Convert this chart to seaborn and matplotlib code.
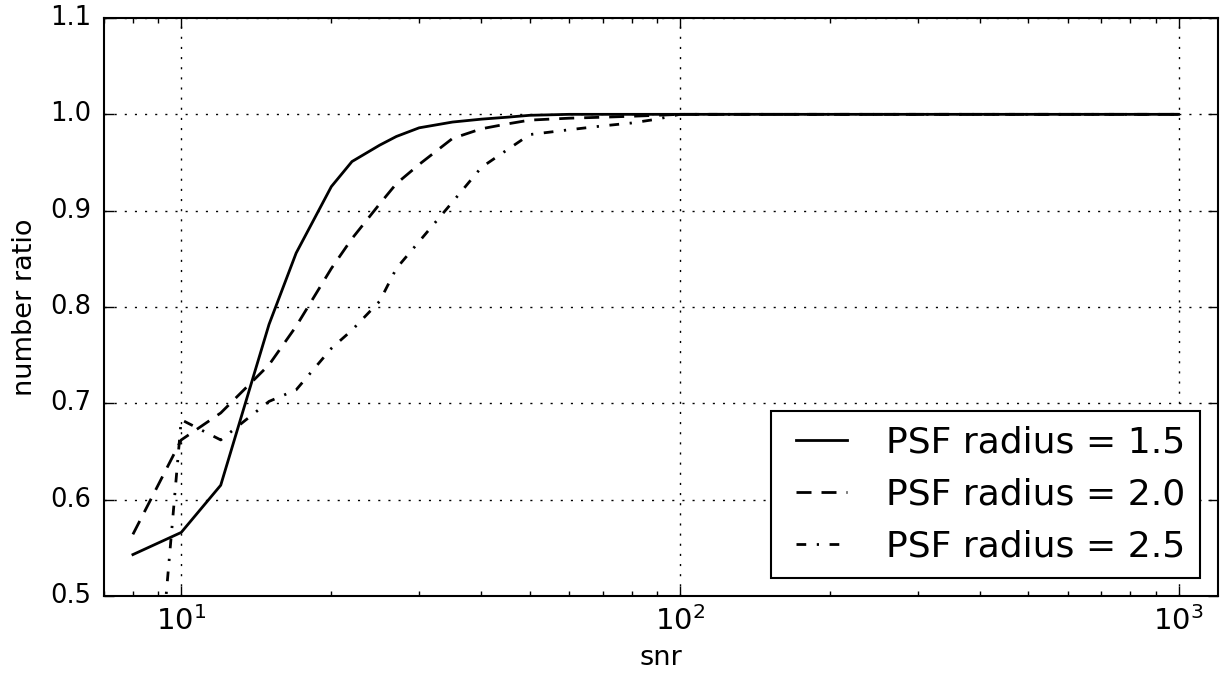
import matplotlib
matplotlib.use("Agg")
import matplotlib.pyplot as plt
import seaborn as sns
import pandas as pd
from matplotlib.ticker import FixedLocator, FormatStrFormatter

# Detection completeness vs. signal-to-noise for three PSF radii
snr = [8, 10, 12, 15, 17, 20, 22, 25, 27, 30, 35, 40, 45, 50,
       60, 70, 80, 90, 100, 200, 300, 400, 500, 600, 700, 800, 900, 1000]

ratio_r15 = [0.543, 0.566, 0.615, 0.782, 0.856, 0.925, 0.951, 0.968, 0.977, 0.986,
             0.992, 0.995, 0.997, 0.999, 1.0, 1.0, 1.0, 1.0, 1.0,
             1.0, 1.0, 1.0, 1.0, 1.0, 1.0, 1.0, 1.0, 1.0]
ratio_r20 = [0.564, 0.662, 0.690, 0.740, 0.780, 0.840, 0.871, 0.907, 0.928, 0.948,
             0.975, 0.985, 0.990, 0.994, 0.996, 0.997, 0.998, 0.999, 1.0,
             1.0, 1.0, 1.0, 1.0, 1.0, 1.0, 1.0, 1.0, 1.0]
ratio_r25 = [0.10, 0.683, 0.662, 0.702, 0.714, 0.757, 0.776, 0.806, 0.840, 0.868,
             0.909, 0.945, 0.963, 0.979, 0.984, 0.988, 0.991, 0.995, 1.0,
             1.0, 1.0, 1.0, 1.0, 1.0, 1.0, 1.0, 1.0, 1.0]

series_labels = ["PSF radius = 1.5", "PSF radius = 2.0", "PSF radius = 2.5"]
y_ticks = [0.5, 0.6, 0.7, 0.8, 0.9, 1.0, 1.1]

sns.set_style("ticks")
plt.style.use("classic")
plt.rcParams["font.family"] = ["DejaVu Sans"]
plt.rcParams["mathtext.fontset"] = "dejavusans"
plt.rcParams["lines.scale_dashes"] = False

df = pd.DataFrame({
    "snr": snr * 3,
    "ratio": ratio_r15 + ratio_r20 + ratio_r25,
    "psf": [series_labels[0]] * len(snr) + [series_labels[1]] * len(snr)
           + [series_labels[2]] * len(snr),
})

line_styles = {
    series_labels[0]: "-",
    series_labels[1]: (0, (10.8, 7.2)),
    series_labels[2]: (0, (7.0, 7.6, 1.6, 7.6)),
}

fig = plt.figure(figsize=(12.25, 6.79), dpi=100)
fig.patch.set_facecolor("white")
ax = fig.add_axes([104 / 1225, 1 - 596 / 679, (1218 - 104) / 1225, (596 - 18) / 679])

for name in series_labels:
    sub = df[df["psf"] == name]
    sns.lineplot(data=sub, x="snr", y="ratio", ax=ax, color="black",
                 linewidth=2.0, linestyle=line_styles[name], label=name,
                 estimator=None, sort=False)

ax.set_xscale("log")
ax.set_xlim(7, 1200)
ax.set_ylim(0.5, 1.1)
ax.yaxis.set_major_locator(FixedLocator(y_ticks))
ax.yaxis.set_major_formatter(FormatStrFormatter("%.1f"))

ax.grid(True, which="major", color="black", linewidth=1.0,
        linestyle=(0, (1.5, 5.8)))
ax.set_axisbelow(False)

for sp in ax.spines.values():
    sp.set_linewidth(1.5)
    sp.set_color("black")

ax.tick_params(which="both", direction="in", top=True, right=True, color="black")
ax.tick_params(which="major", length=7, width=1.0)
ax.tick_params(which="minor", length=3.5, width=1.0)
ax.tick_params(axis="x", which="major", labelsize=21, pad=7)
ax.tick_params(axis="y", which="major", labelsize=18.5, pad=9)

ax.set_xlabel("snr", fontsize=19.5, labelpad=7)
ax.set_ylabel("number ratio", fontsize=19.5, labelpad=9)

leg = ax.legend(loc="lower right", fontsize=26, frameon=True, fancybox=False,
                handlelength=2.0, framealpha=1.0, borderaxespad=0.5)
leg.get_frame().set_edgecolor("black")
leg.get_frame().set_linewidth(1.5)

fig.savefig("out.png", dpi=100, facecolor="white")
